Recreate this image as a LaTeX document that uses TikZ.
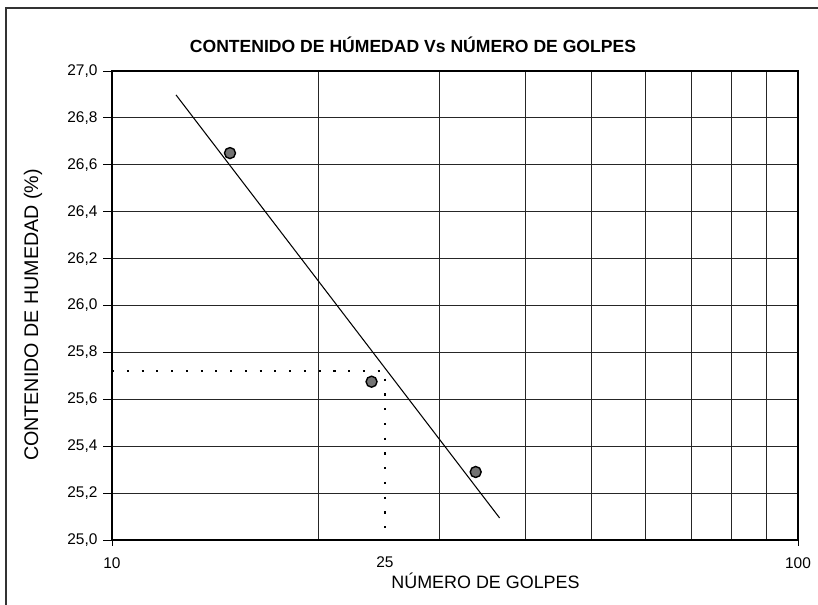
\documentclass[tikz,border=0pt]{standalone}
\usepackage{fontspec}
\setmainfont{Liberation Sans}
\usepackage{xcolor}

\tikzset{
  gridline/.style={black!85,line width=0.5pt},
  dotline/.style={line width=1.3pt,dash pattern=on 1.2pt off 7.2pt},
  datapoint/.style={draw=black,fill=black!55,line width=0.8pt},
  ticklabel/.style={font=\fontsize{8.8}{11}\selectfont},
}

\begin{document}
\begin{tikzpicture}
  \useasboundingbox (0,0) rectangle (16.36,12.1);
  % outer frame (left and top only)
  \draw[black!80,line width=0.6pt] (0.12,0) -- (0.12,11.94) -- (16.36,11.94);

  % title
  \node[font=\bfseries\fontsize{10}{12}\selectfont] (title) at (8.26,11.2) {CONTENIDO DE HÚMEDAD Vs NÚMERO DE GOLPES};

  % plot area: x = log10(N) - 1, y = w - 25
  \begin{scope}[shift={(2.24,1.30)},x=13.72cm,y=4.69cm]
    % grid
    \foreach \n in {2,...,9}
      \draw[gridline] ({log10(\n)},0) -- ({log10(\n)},2);
    \foreach \i in {1,...,9}
      \draw[gridline] (0,0.2*\i) -- (1,0.2*\i);
    \draw[black,line width=0.6pt] (0,0) rectangle (1,2);

    % y ticks and labels
    \foreach \i in {0,...,10}{
      \pgfmathsetmacro\val{25+0.2*\i}
      \draw[black,line width=0.5pt] (0,0.2*\i) -- ++(-0.19cm,0) node[left,inner sep=2.6pt,ticklabel]
        {\pgfmathprintnumber[fixed,fixed zerofill,precision=1,use comma,assume math mode=true]{\val}};
    }
    % x ticks and labels
    \draw[black,line width=0.5pt] (0,0) -- ++(0,-0.12cm);
    \draw[black,line width=0.5pt] (1,0) -- ++(0,-0.12cm);
    \node[ticklabel] (n10) at (0,-0.098) {10};
    \node[ticklabel] (n25) at ({log10(2.5)},-0.094) {25};
    \node[ticklabel] (n100) at (1,-0.098) {100};

    % reading at 25 blows
    \coordinate (y25) at (0,0.72);
    \coordinate (p25) at ({log10(2.5)},0.72);
    \coordinate (x25) at ({log10(2.5)},0);
    \draw[dotline] (y25) -- (p25) -- (x25);

    % trend line
    \coordinate (tstart) at (0.0933,1.898);
    \coordinate (tend) at (0.565,0.094);
    \draw[black,line width=0.6pt] (tstart) -- (tend);

    % data points
    \fill[datapoint] ({log10(1.486)},1.65) circle[radius=0.11cm];
    \fill[datapoint] ({log10(2.39)},0.675) circle[radius=0.11cm];
    \fill[datapoint] ({log10(3.39)},0.29) circle[radius=0.11cm];
  \end{scope}

  % axis titles
  \node[font=\fontsize{10.2}{12}\selectfont] (xtitle) at (9.71,0.48) {NÚMERO DE GOLPES};
  \node[font=\fontsize{11.2}{13}\selectfont,rotate=90] (ytitle) at (0.66,5.8) {CONTENIDO DE HUMEDAD (\%)};
\end{tikzpicture}
\end{document}
